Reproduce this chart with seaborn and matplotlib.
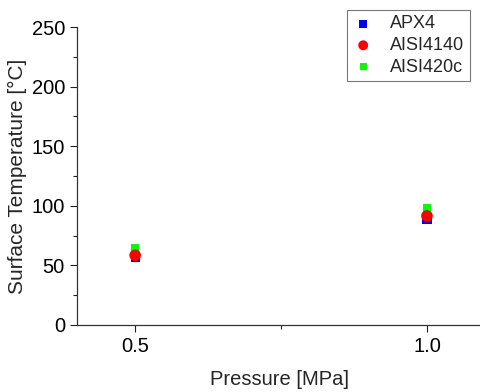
import matplotlib
matplotlib.use("Agg")
import matplotlib.pyplot as plt
import seaborn as sns
import pandas as pd
from matplotlib.ticker import MultipleLocator

sns.set_style("ticks")
plt.rcParams['font.family'] = ['Liberation Sans', 'DejaVu Sans']

pressure = [0.5, 1.0]
apx4 = [57, 89]
aisi4140 = [58.5, 91.5]
aisi420c = [64, 98]

fig = plt.figure(figsize=(4.8, 3.92), dpi=100)
ax = fig.add_axes([0.160, 0.171, 0.845, 0.760])

series = [
    ("APX4", apx4, "#0000ff", "s", 45, 2),
    ("AISI420c", aisi420c, "#00ff00", "s", 38, 3),
    ("AISI4140", aisi4140, "#ff0000", "o", 70, 4),
]
for name, vals, col, mk, sz, z in series:
    df = pd.DataFrame({"p": pressure, "t": vals})
    sns.scatterplot(data=df, x="p", y="t", color=col, marker=mk, s=sz,
                    edgecolor="none", ax=ax, zorder=z, label=name)

h, l = ax.get_legend_handles_labels()
order = ["APX4", "AISI4140", "AISI420c"]
hh = [h[l.index(o)] for o in order]
leg = ax.legend(hh, order, loc="upper right", bbox_to_anchor=(0.969, 1.057),
                borderaxespad=0,
                frameon=True, fancybox=False, edgecolor="#555555",
                fontsize=13, handletextpad=0.9, borderpad=0.3,
                labelspacing=0.25, handlelength=1.2, markerscale=0.85)
leg.get_frame().set_linewidth(0.8)

ax.set_xlim(0.4, 1.095)
ax.set_ylim(0, 250)
ax.set_xticks([0.5, 1.0])
ax.set_xticklabels(["0.5", "1.0"])
ax.xaxis.set_minor_locator(MultipleLocator(0.25))
ax.set_yticks([0, 50, 100, 150, 200, 250])
ax.yaxis.set_minor_locator(MultipleLocator(25))
ax.tick_params(axis="both", which="major", direction="out", length=5,
               width=0.8, labelsize=14.5, colors="#222222", labelcolor="black")
ax.tick_params(axis="both", which="minor", direction="out", length=3, width=0.8,
               colors="#222222")
for sp in ["left", "bottom"]:
    ax.spines[sp].set_color("#333333")
    ax.spines[sp].set_linewidth(0.9)
sns.despine(ax=ax)

ax.set_xlabel("Pressure [MPa]", fontsize=14.5, labelpad=10)
ax.set_ylabel("Surface Temperature [°C]", fontsize=15, labelpad=3)

fig.savefig("out.png", dpi=100)
